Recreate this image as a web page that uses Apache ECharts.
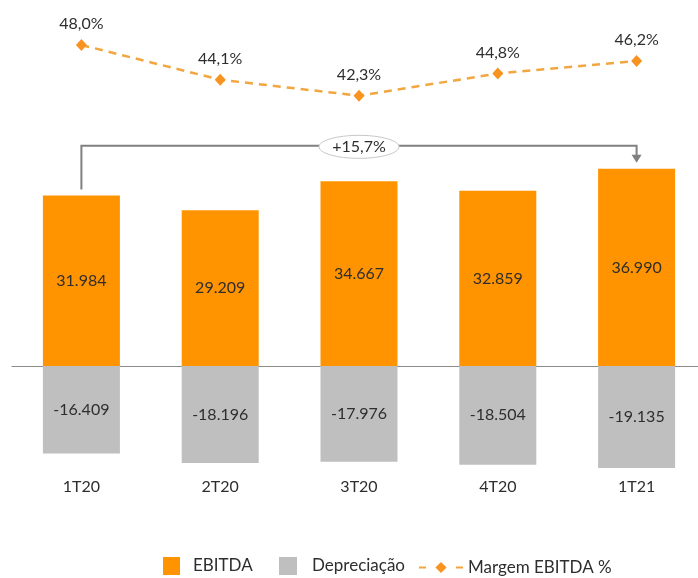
<!DOCTYPE html>
<html>
<head>
<meta charset="utf-8">
<script src="https://cdn.jsdelivr.net/npm/echarts@6/dist/echarts.min.js"></script>
<style>
  html, body { margin: 0; padding: 0; background: #ffffff; }
  #chart { width: 698px; height: 578px; }
</style>
</head>
<body>
<div id="chart"></div>
<script>
// Quarterly EBITDA, depreciation and EBITDA margin
const categories = ['1T20', '2T20', '3T20', '4T20', '1T21'];
const ebitda = [31984, 29209, 34667, 32859, 36990];
const depreciacao = [-16409, -18196, -17976, -18504, -19135];
const margem = [48.0, 44.1, 42.3, 44.8, 46.2];

const FONT = 'Lato, "Open Sans", sans-serif';
const TEXT = '#2E2E2E';
const ORANGE = '#FF9300';
const GREY = '#BFBFBF';

// 31984 -> "31.984", -16409 -> "-16.409"
function fmtThousands(v) {
  const s = Math.abs(Math.round(v)).toString().replace(/\B(?=(\d{3})+(?!\d))/g, '.');
  return (v < 0 ? '-' : '') + s;
}
function fmtPct(v) {
  return v.toFixed(1).replace('.', ',') + '%';
}

// growth between the first and last quarter
const growth = (ebitda[ebitda.length - 1] / ebitda[0] - 1) * 100;
const growthLabel = (growth >= 0 ? '+' : '') + fmtPct(growth);

const chart = echarts.init(document.getElementById('chart'), null, { renderer: 'canvas' });

// the plot area runs a little past the right edge of the canvas
const plotBox = { left: 12, width: 694, outerBoundsMode: 'none', containLabel: false };

const option = {
  animation: false,
  backgroundColor: '#ffffff',
  textStyle: { fontFamily: FONT },
  grid: [
    Object.assign({ top: 126.15, height: 346.45 }, plotBox),
    Object.assign({ top: 27.2, height: 89 }, plotBox)
  ],
  xAxis: [
    {
      gridIndex: 0, type: 'category', data: categories,
      axisLine: { show: true, onZero: true, lineStyle: { color: '#8C8C8C', width: 1 } },
      axisTick: { show: false }, axisLabel: { show: false }, splitLine: { show: false }
    },
    {
      gridIndex: 0, type: 'category', data: categories, position: 'bottom',
      axisLine: { show: false, onZero: false }, axisTick: { show: false },
      axisLabel: { show: true, fontSize: 16, color: TEXT, fontFamily: FONT, margin: 6 }
    },
    { gridIndex: 1, type: 'category', data: categories, show: false }
  ],
  yAxis: [
    { gridIndex: 0, type: 'value', min: -20000, max: 45000, show: false, splitLine: { show: false } },
    { gridIndex: 1, type: 'value', min: 40, max: 50, show: false, splitLine: { show: false } }
  ],
  legend: [
    {
      data: [{ name: 'EBITDA', icon: 'rect' }],
      left: 158, top: 552, itemWidth: 17, itemHeight: 18,
      textStyle: { fontSize: 17, color: TEXT, fontFamily: FONT, padding: [0, 0, 0, 8] }
    },
    {
      data: [{ name: 'Depreciação', icon: 'rect' }],
      left: 274, top: 552, itemWidth: 18, itemHeight: 18,
      textStyle: { fontSize: 17, color: TEXT, fontFamily: FONT, padding: [0, 0, 0, 10] }
    },
    {
      data: ['Margem EBITDA %'],
      left: 413, top: 554, itemWidth: 44, itemHeight: 14,
      lineStyle: { type: [7, 30] },
      textStyle: { fontSize: 17, color: TEXT, fontFamily: FONT }
    }
  ],
  series: [
    {
      name: 'EBITDA', type: 'bar', xAxisIndex: 0, yAxisIndex: 0,
      data: ebitda, barWidth: 77, barGap: '-100%',
      itemStyle: { color: ORANGE },
      label: {
        show: true, position: 'inside', fontSize: 16, color: TEXT, fontFamily: FONT,
        formatter: p => fmtThousands(p.value)
      }
    },
    {
      name: 'Depreciação', type: 'bar', xAxisIndex: 0, yAxisIndex: 0,
      data: depreciacao, barWidth: 77, barGap: '-100%',
      itemStyle: { color: GREY },
      label: {
        show: true, position: 'inside', fontSize: 16, color: TEXT, fontFamily: FONT,
        formatter: p => fmtThousands(p.value)
      }
    },
    {
      name: 'Margem EBITDA %', type: 'line', xAxisIndex: 2, yAxisIndex: 1,
      data: margem, symbol: 'diamond', symbolSize: [11, 12],
      lineStyle: { color: '#F2A63F', width: 2.5, type: [8, 6] },
      itemStyle: { color: '#F7931E' },
      label: {
        show: true, position: 'top', distance: 7, fontSize: 16, color: TEXT, fontFamily: FONT,
        formatter: p => fmtPct(p.value)
      }
    },
    {
      // growth bracket from the first to the last quarter
      name: 'crescimento', type: 'custom', xAxisIndex: 0, yAxisIndex: 0,
      silent: true, z: 5,
      data: [[0, categories.length - 1]],
      renderItem: function (params, api) {
        const i0 = api.value(0), i1 = api.value(1);
        const a = api.coord([i0, ebitda[i0]]);
        const b = api.coord([i1, ebitda[i1]]);
        const yTop = Math.min(a[1], b[1]) - 23;
        const xl = a[0], xr = b[0];
        const cx = (xl + xr) / 2;
        const stroke = '#808080';
        return {
          type: 'group',
          children: [
            {
              type: 'polyline',
              shape: { points: [[xl, a[1] - 6], [xl, yTop], [xr, yTop], [xr, b[1] - 13]] },
              style: { stroke: stroke, lineWidth: 2, fill: null }
            },
            {
              type: 'polygon',
              shape: { points: [[xr - 5, b[1] - 14], [xr + 5, b[1] - 14], [xr, b[1] - 6]] },
              style: { fill: stroke }
            },
            {
              type: 'ellipse',
              shape: { cx: cx, cy: yTop + 1, rx: 40, ry: 11.5 },
              style: { fill: '#ffffff', stroke: '#C8C8C8', lineWidth: 1 }
            },
            {
              type: 'text',
              style: {
                text: growthLabel, x: cx, y: yTop + 1, align: 'center', verticalAlign: 'middle',
                fontSize: 16, fontFamily: FONT, fill: TEXT
              }
            }
          ]
        };
      }
    }
  ]
};

chart.setOption(option);
</script>
</body>
</html>
